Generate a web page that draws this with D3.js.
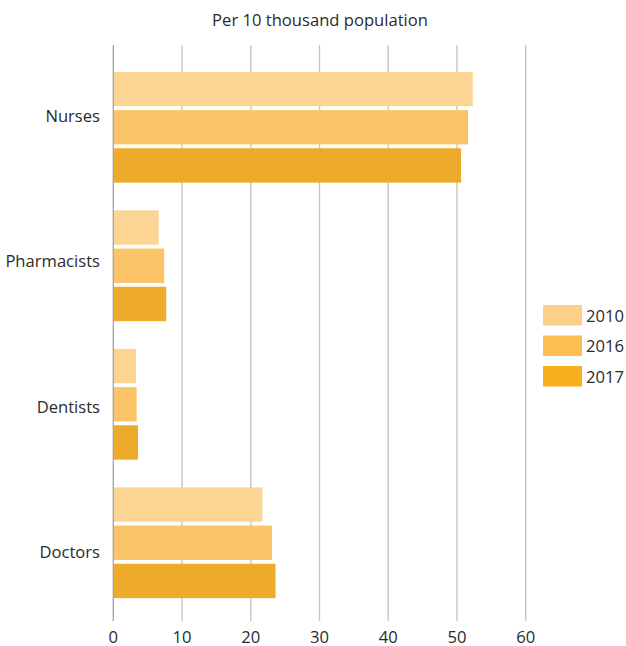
<!DOCTYPE html>
<html><head><meta charset="utf-8">
<script src="https://cdn.jsdelivr.net/npm/d3@7"></script>
<style>body{margin:0;background:#fff;} text{font-family:"Open Sans",sans-serif;fill:#2b2b2b;}</style>
</head><body><svg id="c" width="626" height="646"></svg>
<script>
const categories = ["Nurses","Pharmacists","Dentists","Doctors"];
const years = ["2010","2016","2017"];
const v2010 = [52.3, 6.6, 3.3, 21.7];
const v2016 = [51.6, 7.4, 3.4, 23.1];
const v2017 = [50.6, 7.7, 3.6, 23.6];
const ticks = [0,10,20,30,40,50,60];
const barColors = ["#FCD594","#FCC469","#EEAA2B"];
const legendColors = ["#FDD08A","#FCC052","#F9B01E"];
const title = "Per 10 thousand population";

const series = [v2010, v2016, v2017];
const svg = d3.select("#c");
const fs = "16.6px";
const x = d3.scaleLinear().domain([0,60]).range([113.3, 525.7]);
const y0 = d3.scaleBand().domain(categories).range([58,612]).paddingInner(0.2).paddingOuter(0.1);
const y1 = d3.scaleBand().domain(years).range([0,y0.bandwidth()]).paddingInner(0.1);
const yLabel = d3.scalePoint().domain(categories).range([116,552]);

// gridlines
svg.append("g").selectAll("line").data(ticks).join("line")
  .attr("x1",d=>x(d)).attr("x2",d=>x(d)).attr("y1",45).attr("y2",621)
  .attr("stroke",d=>d===0?"#a9a9a9":"#c6c6c6").attr("stroke-width",1.4);

svg.append("g").selectAll("text").data(ticks).join("text")
  .attr("x",d=>x(d)).attr("y",643).attr("text-anchor","middle")
  .style("font-size",fs).text(d=>d);

// bars
const g = svg.append("g").selectAll("g").data(categories).join("g")
  .attr("transform",d=>`translate(0,${y0(d)})`);
g.selectAll("rect").data((c,i)=>years.map((yr,j)=>({yr,j,v:series[j][i]}))).join("rect")
  .attr("x",x(0)+0.7).attr("y",d=>y1(d.yr)).attr("height",y1.bandwidth())
  .attr("width",d=>x(d.v)-x(0)-0.7).attr("fill",d=>barColors[d.j]);

// category labels
svg.append("g").selectAll("text").data(categories).join("text")
  .attr("x",100).attr("y",d=>yLabel(d)+6).attr("text-anchor","end")
  .style("font-size",fs).text(d=>d);

// title
svg.append("text").attr("x",320).attr("y",25.5).attr("text-anchor","middle")
  .style("font-size",fs).text(title);

// legend
const lg = svg.append("g").selectAll("g").data(years).join("g")
  .attr("transform",(d,i)=>`translate(543,${305+i*30.5})`);
lg.append("rect").attr("width",39).attr("height",20.5).attr("fill",(d,i)=>legendColors[i]);
lg.append("text").attr("x",43).attr("y",16.5).style("font-size",fs).text(d=>d);
</script></body></html>
